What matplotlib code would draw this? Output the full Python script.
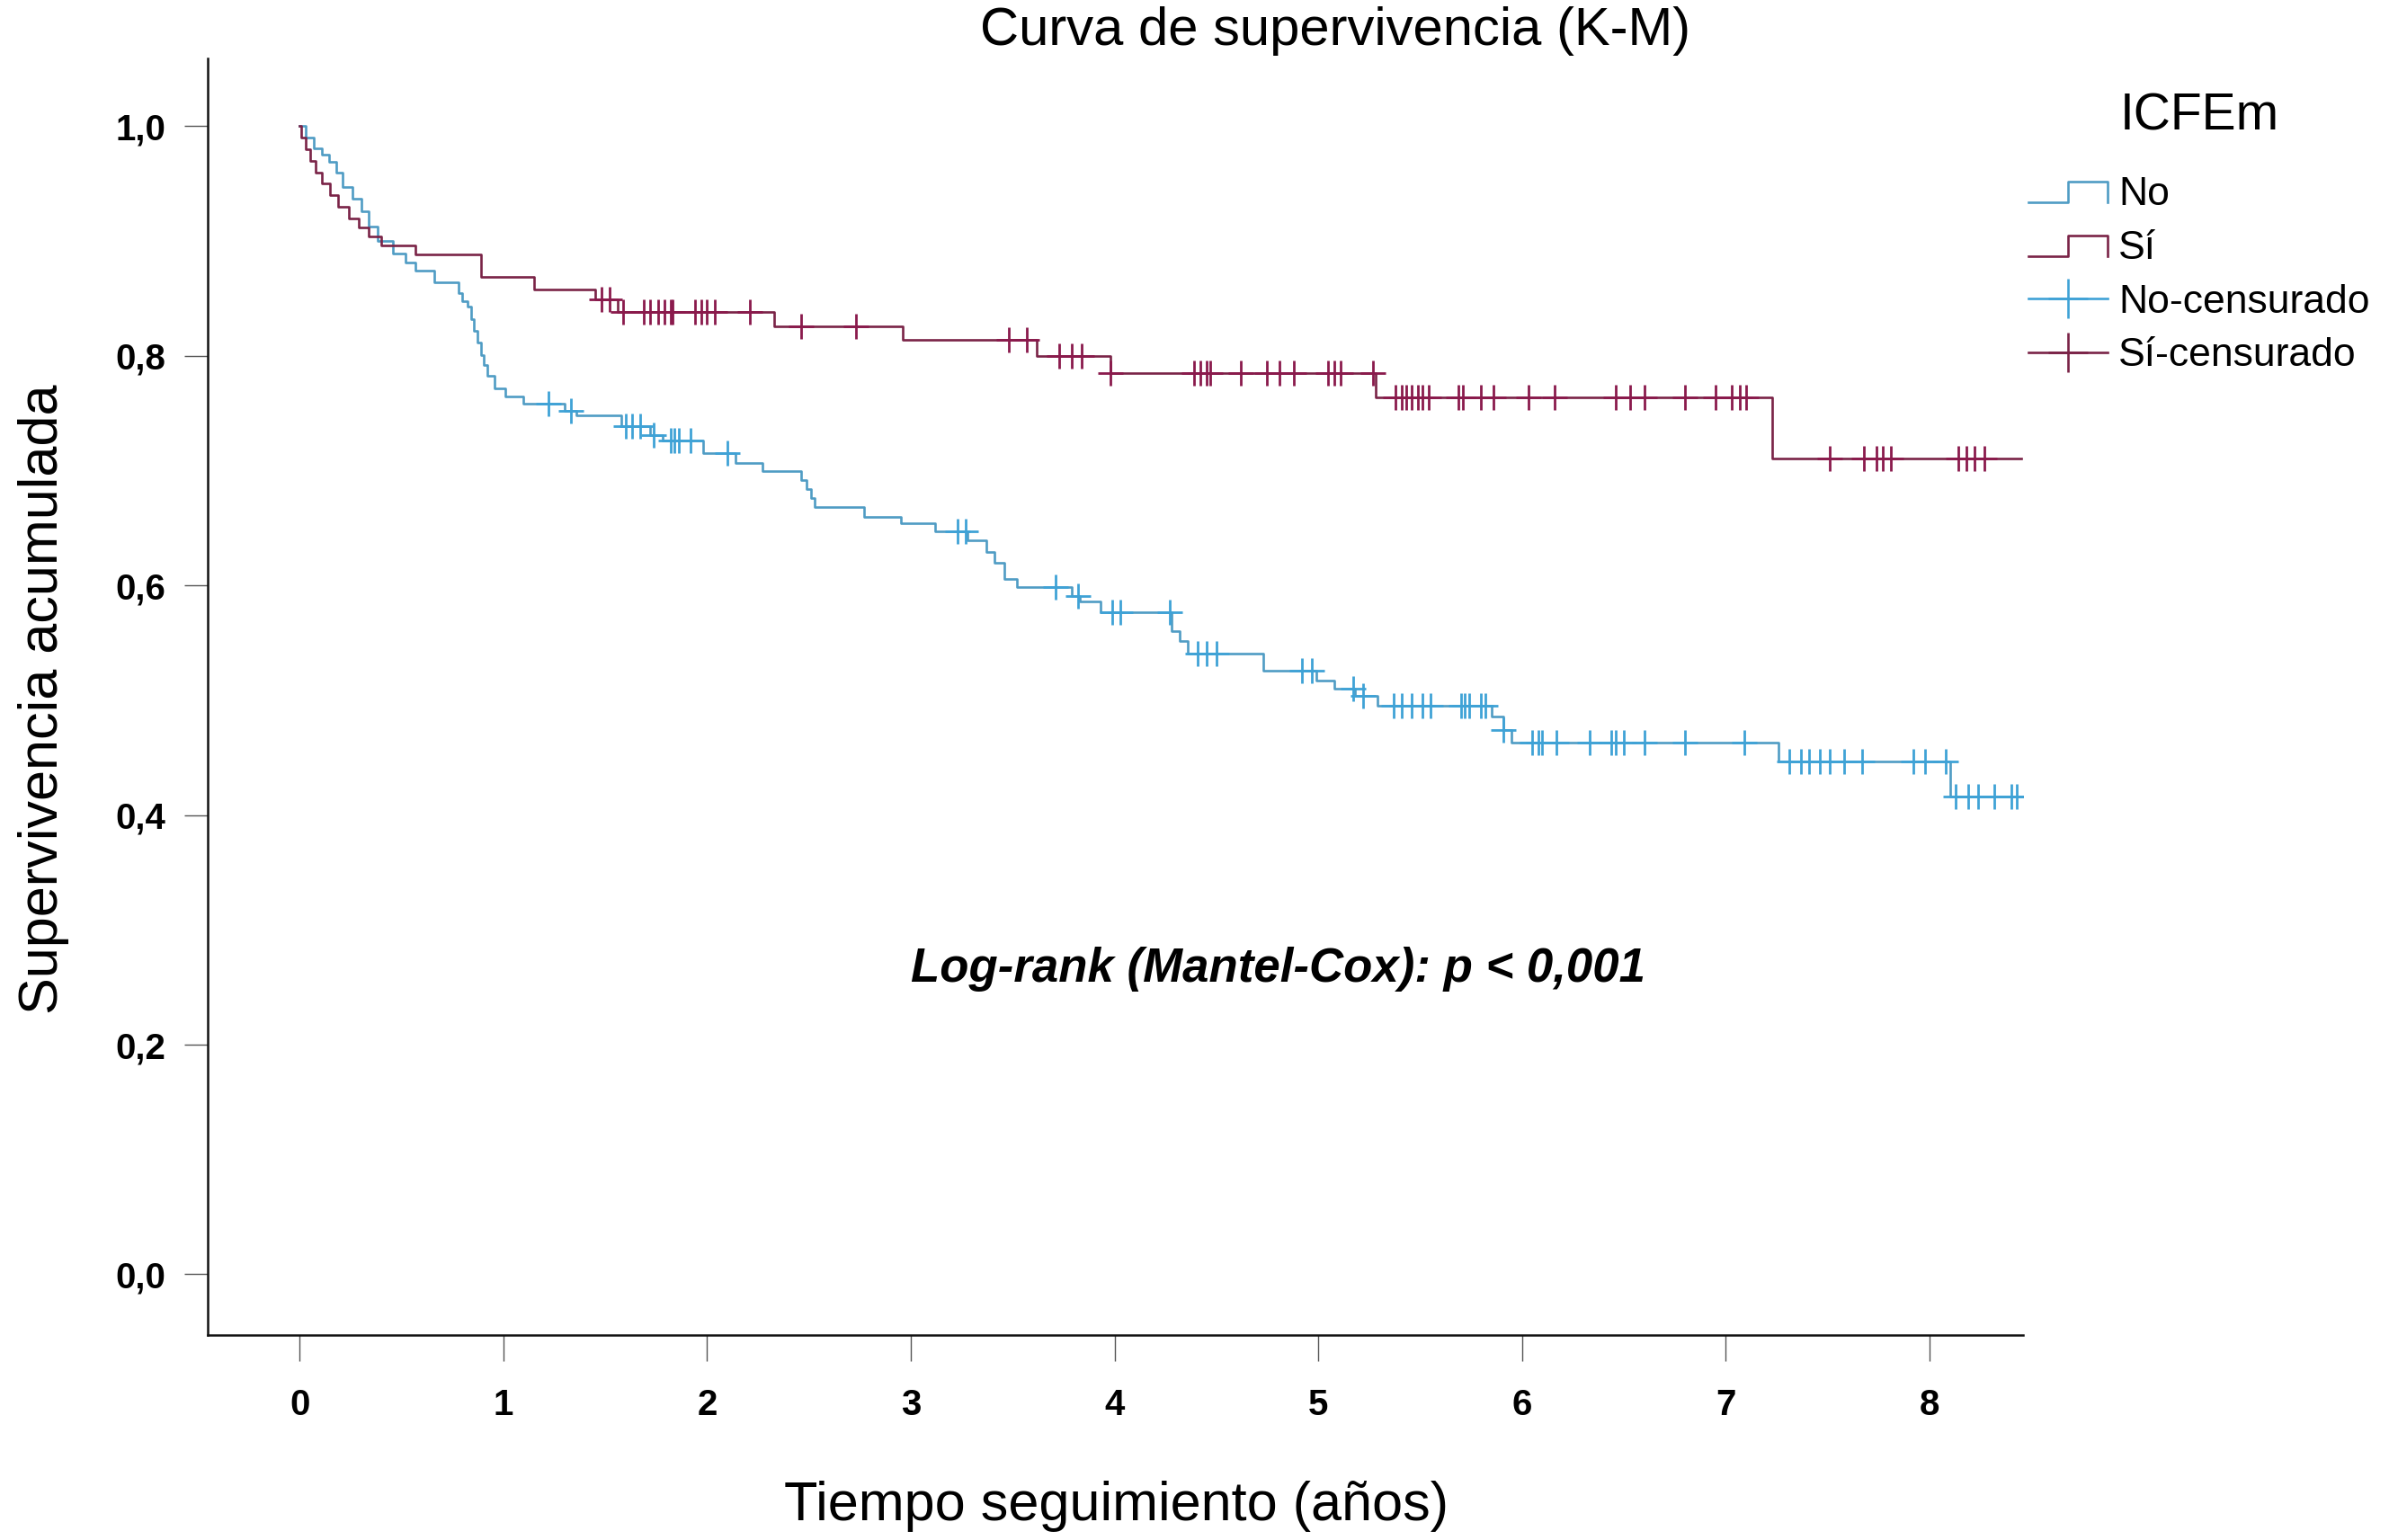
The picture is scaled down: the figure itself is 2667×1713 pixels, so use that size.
import matplotlib
matplotlib.use('Agg')
import matplotlib.pyplot as plt
import numpy as np
from matplotlib.lines import Line2D
from matplotlib.legend_handler import HandlerBase

plt.rcParams['font.family'] = ['Liberation Sans', 'DejaVu Sans']

# ---------------- data ----------------
no_event_times = [0.03, 0.07, 0.11, 0.146, 0.18, 0.213, 0.26, 0.303, 0.34, 0.382,
                  0.46, 0.52, 0.57, 0.66, 0.78, 0.80, 0.823, 0.84, 0.857, 0.875,
                  0.89, 0.905, 0.92, 0.957, 1.01, 1.10, 1.30, 1.36, 1.58, 1.72,
                  1.78, 1.98, 2.14, 2.27, 2.46, 2.49, 2.51, 2.53, 2.77, 2.95,
                  3.12, 3.28, 3.37, 3.41, 3.46, 3.52, 3.79, 3.83, 3.93, 4.28,
                  4.32, 4.36, 4.73, 4.99, 5.08, 5.18, 5.29, 5.85, 5.91, 5.95,
                  7.26, 8.10]
no_surv = [0.990, 0.981, 0.975, 0.969, 0.960, 0.947, 0.937, 0.926, 0.913, 0.900,
           0.889, 0.881, 0.874, 0.864, 0.855, 0.848, 0.843, 0.832, 0.822, 0.812,
           0.801, 0.792, 0.783, 0.772, 0.765, 0.758, 0.752, 0.748, 0.739, 0.731,
           0.726, 0.715, 0.707, 0.700, 0.692, 0.684, 0.676, 0.668, 0.660, 0.654,
           0.647, 0.639, 0.629, 0.620, 0.606, 0.599, 0.591, 0.586, 0.577, 0.560,
           0.552, 0.541, 0.526, 0.517, 0.510, 0.504, 0.495, 0.486, 0.474, 0.463,
           0.447, 0.416]
no_censor_times = [1.22, 1.33, 1.60, 1.63, 1.67, 1.74, 1.82, 1.84, 1.86, 1.92,
                   2.10, 3.23, 3.27, 3.71, 3.82, 3.99, 4.03, 4.27, 4.41, 4.45,
                   4.50, 4.92, 4.97, 5.17, 5.22, 5.37, 5.41, 5.46, 5.51, 5.55,
                   5.70, 5.72, 5.74, 5.80, 5.82, 5.91, 6.05, 6.08, 6.10, 6.17,
                   6.33, 6.44, 6.46, 6.50, 6.60, 6.80, 7.09, 7.31, 7.37, 7.41,
                   7.46, 7.51, 7.58, 7.67, 7.92, 7.98, 8.08, 8.13, 8.19, 8.24,
                   8.32, 8.40, 8.43]

si_event_times = [0.01, 0.03, 0.05, 0.08, 0.11, 0.15, 0.19, 0.24, 0.29, 0.34,
                  0.40, 0.57, 0.89, 1.15, 1.45, 1.56, 2.33, 2.96, 3.62, 3.98,
                  5.28, 7.23]
si_surv = [0.990, 0.980, 0.970, 0.960, 0.950, 0.940, 0.930, 0.920, 0.912, 0.904,
           0.896, 0.888, 0.869, 0.858, 0.849, 0.838, 0.826, 0.814, 0.800, 0.785,
           0.764, 0.711]
si_censor_times = [1.48, 1.52, 1.59, 1.69, 1.72, 1.76, 1.79, 1.82, 1.83, 1.94,
                   1.97, 2.00, 2.04, 2.21, 2.46, 2.73, 3.48, 3.57, 3.73, 3.79,
                   3.84, 3.98, 4.39, 4.42, 4.45, 4.47, 4.62, 4.75, 4.81, 4.88,
                   5.05, 5.08, 5.11, 5.27, 5.38, 5.41, 5.43, 5.46, 5.49, 5.51,
                   5.54, 5.69, 5.71, 5.80, 5.86, 6.03, 6.16, 6.46, 6.53, 6.60,
                   6.80, 6.95, 7.03, 7.07, 7.10, 7.51, 7.68, 7.74, 7.77, 7.81,
                   8.14, 8.18, 8.22, 8.27]

follow_end = 8.45
x_ticks = [0, 1, 2, 3, 4, 5, 6, 7, 8]
y_ticks = [0.0, 0.2, 0.4, 0.6, 0.8, 1.0]
y_tick_labels = ['0,0', '0,2', '0,4', '0,6', '0,8', '1,0']
legend_labels = ['No', 'Sí', 'No-censurado', 'Sí-censurado']

# ---------------- styles ----------------
c_no_line = '#4f9cc4'
c_no_mark = '#3fa2d6'
c_si_line = '#7a2347'
c_si_mark = '#8a1a4c'

fig = plt.figure(figsize=(26.67, 17.13), dpi=100)
ax = fig.add_axes([0.0867, 0.133, 0.757, 0.829])


def step_xy(times, surv):
    x = np.concatenate([[0.0], times, [follow_end]])
    y = np.concatenate([[1.0], surv, [surv[-1]]])
    return x, y


def surv_at(t, times, surv):
    idx = np.searchsorted(np.asarray(times), np.asarray(t), side='right')
    full = np.concatenate([[1.0], surv])
    return full[idx]


xn, yn = step_xy(no_event_times, no_surv)
xs, ys = step_xy(si_event_times, si_surv)
ax.step(xn, yn, where='post', color=c_no_line, lw=1.9, zorder=3)
ax.step(xs, ys, where='post', color=c_si_line, lw=1.9, zorder=4)
ax.plot(no_censor_times, surv_at(no_censor_times, no_event_times, no_surv),
        linestyle='none', marker='+', markersize=20, mew=2.0, color=c_no_mark, zorder=3)
ax.plot(si_censor_times, surv_at(si_censor_times, si_event_times, si_surv),
        linestyle='none', marker='+', markersize=20, mew=2.0, color=c_si_mark, zorder=4)

ax.set_xlim(-0.45, 8.46)
ax.set_ylim(-0.053, 1.059)
ax.set_xticks(x_ticks)
ax.set_xticklabels([str(v) for v in x_ticks])
ax.set_yticks(y_ticks)
ax.set_yticklabels(y_tick_labels)
for s in ['top', 'right']:
    ax.spines[s].set_visible(False)
for s in ['left', 'bottom']:
    ax.spines[s].set_linewidth(1.8)
    ax.spines[s].set_color('#111111')
ax.tick_params(axis='x', length=21, width=1.0, color='#555555', pad=21,
               labelsize=29)
ax.tick_params(axis='y', length=19, width=1.0, color='#555555', pad=15,
               labelsize=29)
for lab in ax.get_xticklabels() + ax.get_yticklabels():
    lab.set_fontweight('bold')

ax.text(3.0, 0.266, 'Log-rank (Mantel-Cox): p < 0,001', fontsize=38,
        fontweight='bold', fontstyle='italic', ha='left', va='center')

fig.text(0.557, 0.980, 'Curva de supervivencia (K-M)', fontsize=43,
         ha='center', va='center')
fig.text(0.4656, 0.022, 'Tiempo seguimiento (años)', fontsize=44,
         ha='center', va='center')
fig.text(0.018, 0.546, 'Supervivencia acumulada', fontsize=44,
         ha='center', va='center', rotation=90)


class StepHandler(HandlerBase):
    def create_artists(self, legend, orig_handle, xdescent, ydescent, width,
                       height, fontsize, trans):
        x0 = -xdescent
        lo = -ydescent + 0.1 * height
        hi = -ydescent + 0.85 * height
        xs_ = [x0, x0 + 0.5 * width, x0 + 0.5 * width, x0 + width, x0 + width]
        ys_ = [lo, lo, hi, hi, lo]
        ln = Line2D(xs_, ys_, color=orig_handle.get_color(),
                    lw=orig_handle.get_linewidth())
        ln.set_transform(trans)
        return [ln]


h_no = Line2D([], [], color=c_no_line, lw=1.9)
h_si = Line2D([], [], color=c_si_line, lw=1.9)
h_noc = Line2D([], [], color=c_no_mark, lw=1.9, marker='+', markersize=31, mew=1.9)
h_sic = Line2D([], [], color=c_si_line, lw=1.9, marker='+', markersize=31, mew=1.9)

leg = fig.legend([h_no, h_si, h_noc, h_sic], legend_labels,
                 handler_map={h_no: StepHandler(), h_si: StepHandler()},
                 title='ICFEm', title_fontsize=41, fontsize=32,
                 loc='upper left', bbox_to_anchor=(0.846, 0.940),
                 frameon=False, borderpad=0, borderaxespad=0,
                 handlelength=1.98, handletextpad=0.27, labelspacing=0.42,
                 numpoints=1)
# extra gap between legend title and its entries, as in the reference
leg._legend_box.sep = 28.5

fig.savefig('out.png', dpi=100)
